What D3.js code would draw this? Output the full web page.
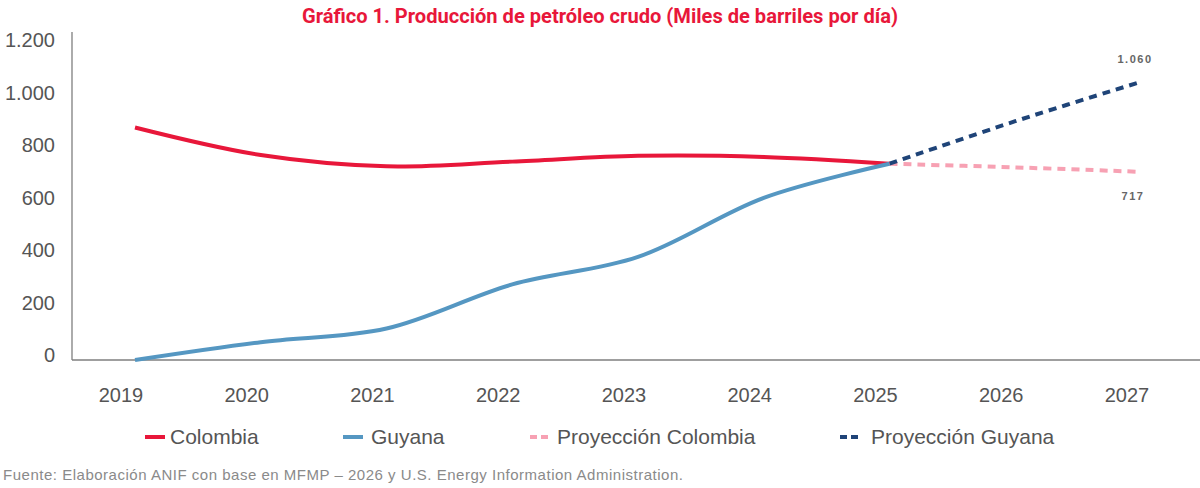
<!DOCTYPE html>
<html>
<head>
<meta charset="utf-8">
<script src="https://cdn.jsdelivr.net/npm/d3@7"></script>
<style>
  body { margin: 0; background: #fff; }
  svg { display: block; }
</style>
</head>
<body>
<svg id="chart" width="1200" height="488"></svg>
<script>
const years = [2019, 2020, 2021, 2022, 2023, 2024, 2025, 2026, 2027];
const colombia = [886, 781, 738, 756, 778, 774, 748];
const guyana = [0, 68, 120, 288, 393, 618, 748];
const proyColombia = [748, 734, 717];
const proyGuyana = [748, 910, 1060];
const yTicks = [0, 200, 400, 600, 800, 1000, 1200];
const histYears = years.slice(0, 7);
const projYears = years.slice(6);
const title = "Gráfico 1. Producción de petróleo crudo (Miles de barriles por día)";
const source = "Fuente: Elaboración ANIF con base en MFMP – 2026 y U.S. Energy Information Administration.";
const legendItems = ["Colombia", "Guyana", "Proyección Colombia", "Proyección Guyana"];

const svg = d3.select("#chart");
const fmt = d => d3.format(",")(d).replace(/,/g, ".");

const x = d3.scaleLinear().domain([2019, 2027]).range([135, 1141]);
const y = d3.scaleLinear().domain([0, 1250]).range([360, 32]);

// title
svg.append("text")
  .attr("x", 600).attr("y", 23)
  .attr("text-anchor", "middle")
  .attr("font-family", "'Liberation Sans Narrow', Roboto, sans-serif")
  .attr("font-weight", "bold")
  .attr("font-size", 20)
  .attr("fill", "#E8173A")
  .attr("textLength", 596)
  .attr("lengthAdjust", "spacingAndGlyphs")
  .text(title);

// axes lines
svg.append("line").attr("x1", 72).attr("x2", 72).attr("y1", 32).attr("y2", y(0))
  .attr("stroke", "#7f7f7f").attr("stroke-width", 1.3);
svg.append("line").attr("x1", 72).attr("x2", 1200).attr("y1", y(0)).attr("y2", y(0))
  .attr("stroke", "#7f7f7f").attr("stroke-width", 1.3);

// y tick labels
svg.append("g").selectAll("text").data(yTicks).join("text")
  .attr("x", 55).attr("y", d => y(d) + 2)
  .attr("text-anchor", "end")
  .attr("font-family", "'Liberation Sans', Arial, sans-serif")
  .attr("font-size", 20)
  .attr("fill", "#555")
  .text(fmt);

// x tick labels
svg.append("g").selectAll("text").data(years).join("text")
  .attr("x", d => x(d) - 14).attr("y", 402)
  .attr("text-anchor", "middle")
  .attr("font-family", "'Liberation Sans', Arial, sans-serif")
  .attr("font-size", 20)
  .attr("fill", "#555")
  .text(d => d);

const lineGen = d3.line().x(d => x(d[0])).y(d => y(d[1])).curve(d3.curveCatmullRom.alpha(0.5));

const series = [
  { yrs: projYears, vals: proyColombia, color: "#F7A1B3", dash: "8,6", w: 4 },
  { yrs: projYears, vals: proyGuyana, color: "#1F4478", dash: "8,6", w: 4 },
  { yrs: histYears, vals: colombia, color: "#E8173A", dash: null, w: 4 },
  { yrs: histYears, vals: guyana, color: "#5597C2", dash: null, w: 4 }
];
series.forEach(s => {
  svg.append("path")
    .datum(s.yrs.map((yr, i) => [yr, s.vals[i]]))
    .attr("d", lineGen)
    .attr("fill", "none")
    .attr("stroke", s.color)
    .attr("stroke-width", s.w)
    .attr("stroke-dasharray", s.dash);
});

// data labels
svg.append("text").attr("x", x(2027) - 6).attr("y", y(proyGuyana[2]) - 19)
  .attr("text-anchor", "middle").attr("font-family", "'Liberation Sans', Arial, sans-serif")
  .attr("font-size", 11).attr("font-weight", "bold").attr("letter-spacing", 1.5).attr("fill", "#666")
  .text(fmt(proyGuyana[2]));
svg.append("text").attr("x", x(2027) - 8).attr("y", y(proyColombia[2]) + 28)
  .attr("text-anchor", "middle").attr("font-family", "'Liberation Sans', Arial, sans-serif")
  .attr("font-size", 11).attr("font-weight", "bold").attr("letter-spacing", 1.5).attr("fill", "#666")
  .text(fmt(proyColombia[2]));

// legend
const legendX = [145, 343, 530, 840];
const legendTextX = [170, 371, 557, 871];
const legendColors = ["#E8173A", "#5597C2", "#F7A1B3", "#1F4478"];
const legendDash = [null, null, "7,4", "7,4"];
const lg = svg.append("g");
legendItems.forEach((name, i) => {
  lg.append("line").attr("x1", legendX[i]).attr("x2", legendX[i] + (i < 2 ? 20 : 18))
    .attr("y1", 437).attr("y2", 437)
    .attr("stroke", legendColors[i]).attr("stroke-width", 4)
    .attr("stroke-dasharray", legendDash[i]);
  lg.append("text").attr("x", legendTextX[i]).attr("y", 444)
    .attr("font-family", "'Liberation Sans', Arial, sans-serif")
    .attr("font-size", 21).attr("fill", "#555")
    .text(name);
});

// source
svg.append("text").attr("x", 3).attr("y", 480)
  .attr("font-family", "'Liberation Sans', Arial, sans-serif")
  .attr("font-size", 15).attr("fill", "#8a8a8a")
  .attr("textLength", 680).attr("lengthAdjust", "spacing")
  .text(source);
</script>
</body>
</html>
